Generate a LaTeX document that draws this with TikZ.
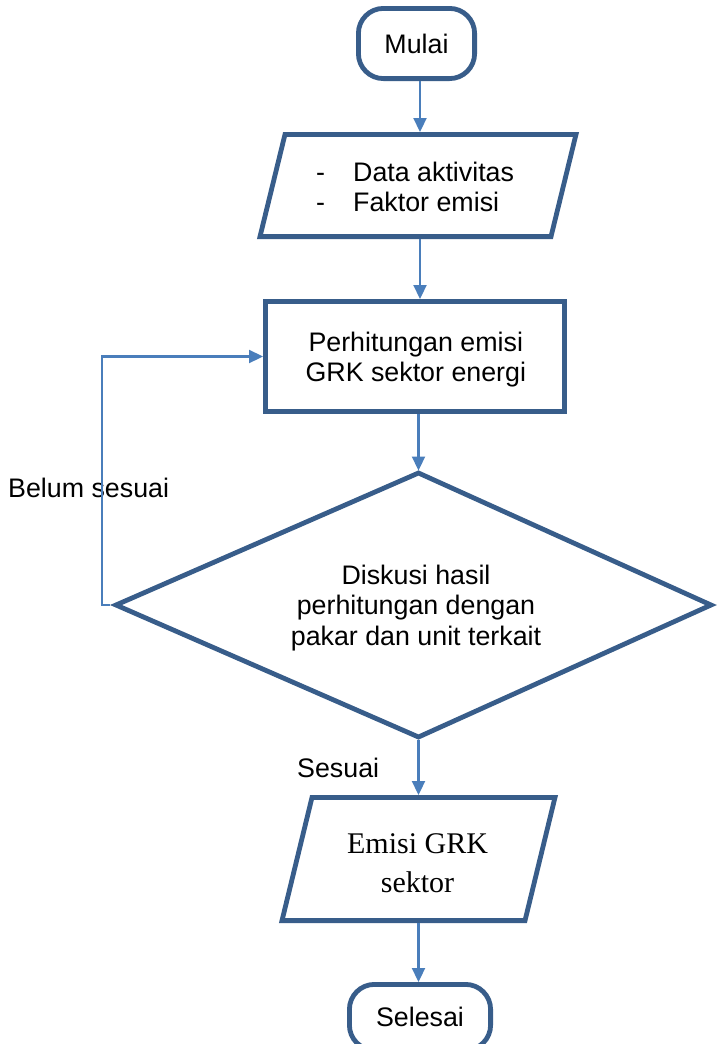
\documentclass[tikz,border=0pt]{standalone}
\usepackage{fontspec}
\newfontfamily\arialf{Liberation Sans}
\newfontfamily\timesf{Liberation Serif}
\usetikzlibrary{arrows.meta}
\definecolor{shapeblue}{HTML}{385D8A}
\definecolor{linkblue}{HTML}{4A7EBB}
\tikzset{
  shapeline/.style={draw=shapeblue, line width=4.8pt, fill=white},
  terminal/.style={shapeline, rounded corners=25pt, minimum width=116.2pt, minimum height=70.2pt, inner sep=0pt, font=\arialf\fontsize{26.8}{30}\selectfont},
  procbox/.style={shapeline, minimum width=299.2pt, minimum height=110.2pt, inner sep=0pt},
  txt/.style={font=\arialf\fontsize{26.8}{30}\selectfont, inner sep=0pt, align=center},
  link/.style={draw=linkblue, line width=2.25pt, -{Triangle[width=13pt,length=14pt]}},
}
\begin{document}
\begin{tikzpicture}[x=1pt,y=-1pt]
\useasboundingbox (0,0) rectangle (718,1044);
\clip (0,0) rectangle (718,1044);
\fill[white] (0,0) rectangle (718,1044);

% start
\node[terminal] (mulai) at (416.5,43.5) {Mulai};

% input
\draw[shapeline] (285,134.4) -- (576,134.4) -- (551,236.6) -- (260,236.6) -- cycle;
\coordinate (in1T) at (420,132);
\coordinate (in1B) at (420,239);
\node[txt, anchor=base west, align=left] (in1txt) at (316,211.7)
  {\makebox[37pt][l]{-}Data aktivitas\\\makebox[37pt][l]{-}Faktor emisi};

% process
\node[procbox] (proc) at (415,356.5) {};
\node[txt, anchor=base] (proctxt) at (415.8,381.7) {Perhitungan emisi\\GRK sektor energi};

% decision
\draw[shapeline] (418.5,473) -- (711,605) -- (418.5,737) -- (116,605) -- cycle;
\coordinate (diaT) at (418.5,470.5);
\coordinate (diaB) at (418.5,739.5);
\coordinate (diaL) at (110,605);
\coordinate (loopC) at (102,605);
\node[txt, anchor=base, font=\arialf\fontsize{26.8}{30.5}\selectfont] (diatxt) at (416,645)
  {Diskusi hasil\\perhitungan dengan\\pakar dan unit terkait};

% output
\draw[shapeline] (312,797.4) -- (555,797.4) -- (525,920.6) -- (282,920.6) -- cycle;
\coordinate (out2T) at (418.5,795);
\coordinate (out2B) at (418.5,923);
\node[anchor=base, align=center, inner sep=0pt, font=\timesf\fontsize{30}{39}\selectfont] (outtxt) at (417.5,892)
  {Emisi GRK\\sektor};

% end
\node[terminal, minimum width=141.2pt, minimum height=65.7pt] (selesai) at (420,1017.25) {Selesai};

% labels
\node[txt, anchor=base west] (belum) at (8,497) {Belum sesuai};
\node[txt, anchor=base west] (sesuai) at (297,777) {Sesuai};

% connectors
\draw[link] (mulai.south -| in1T) -- (in1T);
\draw[link] (in1B) -- (in1B |- proc.north);
\draw[link] (proc.south -| diaT) -- (diaT);
\draw[link] (diaL) -- (loopC) |- (proc.west);
\draw[link] (diaB) -- (out2T);
\draw[link] (out2B) -- (out2B |- selesai.north);
\end{tikzpicture}
\end{document}
